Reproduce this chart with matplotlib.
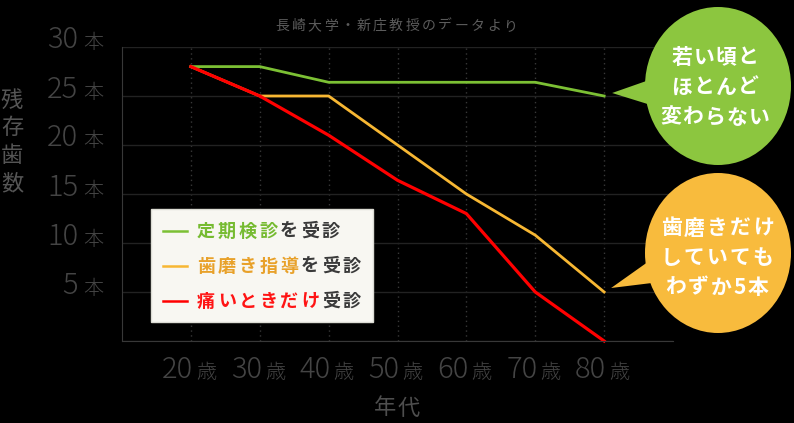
import matplotlib
matplotlib.use("Agg")
import matplotlib.pyplot as plt
from matplotlib.patches import Ellipse, Polygon, Rectangle

plt.rcParams['font.family'] = ['Noto Sans CJK JP', 'DejaVu Sans']

# data
ages = [20, 30, 40, 50, 60, 70, 80]
teiki = [28, 28, 26.4, 26.4, 26.4, 26.4, 25]        # 定期検診を受診
hamigaki = [28, 25, 25, 20, 15, 10.8, 5]           # 歯磨き指導を受診
itai = [28, 25, 21, 16.4, 13, 5, 0]                # 痛いときだけ受診
yticks = [5, 10, 15, 20, 25, 30]

series_names = [("定期検診", "を受診"), ("歯磨き指導", "を受診"), ("痛いときだけ", "受診")]
line_colors = ["#7cc034", "#f7b733", "#ff0000"]
text_colors = ["#76bb31", "#e8a12a", "#ff1414"]

title = "長崎大学・新庄教授のデータより"
ylabel = "残存歯数"
xlabel = "年代"
bubble_green = ["若い頃と", "ほとんど", "変わらない"]
bubble_orange = ["歯磨きだけ", "していても", "わずか5本"]

W, H = 794, 423
fig = plt.figure(figsize=(W / 100, H / 100), dpi=100, facecolor="black")

# main plot area
ax = fig.add_axes([122 / W, 1 - 341 / H, (673 - 122) / W, (341 - 47) / H])
ax.set_facecolor("black")
ax.set_xlim(10, 90)
ax.set_ylim(0, 30)
ax.set_xticks(ages)
ax.set_yticks([0] + yticks)
ax.tick_params(length=0, labelleft=False, labelbottom=False)
ax.grid(axis="y", color="#222222", lw=1)
ax.grid(axis="x", color="#383838", lw=1, ls=(0, (1, 2.5)))
for s in ["top", "right"]:
    ax.spines[s].set_visible(False)
for s in ["left", "bottom"]:
    ax.spines[s].set_color("#383838")

for vals, c in zip([teiki, hamigaki, itai], line_colors):
    ax.plot(ages, vals, color=c, lw=2 if c != "#ff0000" else 2.3, clip_on=False,
            solid_joinstyle="round")

# overlay in image pixel coords (origin top left) for labels, legend, bubbles
ov = fig.add_axes([0, 0, 1, 1], zorder=5)
ov.set_xlim(0, W)
ov.set_ylim(H, 0)
ov.axis("off")
ov.patch.set_alpha(0)


def px(x, y):
    return ov.transData.inverted().transform(ax.transData.transform((x, y)))


def spaced(xc, y, s, adv, **kw):
    # draw text char by char with a fixed advance (letter spacing);
    # ascii chars get a narrower slot
    widths = [adv * 0.6 if ch.isascii() else adv for ch in s]
    total = sum(widths)
    x = xc - total / 2
    for ch, w in zip(s, widths):
        ov.text(x + w / 2, y, ch, ha="center", va="center", **kw)
        x += w


tick_col = "#444444"
for v in yticks:
    gy = px(10, v)[1]
    ov.text(78, gy + 1.5, str(v), ha="right", va="baseline", fontsize=21,
            fontweight="light", color=tick_col)
    ov.text(83, gy + 1.5, "本", ha="left", va="baseline", fontsize=14.5,
            fontweight="light", color=tick_col)

for a in ages:
    gx = px(a, 0)[0]
    ov.text(gx + 2, 378, str(a), ha="right", va="baseline", fontsize=21,
            fontweight="light", color=tick_col)
    ov.text(gx + 5, 378, "歳", ha="left", va="baseline", fontsize=14.5,
            fontweight="light", color=tick_col)

spaced(396, 26, title, 16.3, fontsize=10, color="#5c5c5c")
for i, ch in enumerate(ylabel):
    ov.text(12, 100 + i * 28, ch, ha="center", va="center", fontsize=16,
            color="#555555")
spaced(397, 408, xlabel, 23, fontsize=16, color="#4e4e4e")

# legend
ov.add_patch(Rectangle((151, 209), 222, 113, facecolor="#f8f7f2",
                       edgecolor="#dcdcd4", lw=1))
for i, ((head, tail), lc, tc) in enumerate(zip(series_names, line_colors, text_colors)):
    yy = 231.5 + i * 34.8
    ov.plot([163, 187], [yy, yy], color=lc, lw=1.8)
    full = head + tail
    x0 = 206
    for j, ch in enumerate(full):
        ov.text(x0 + j * 20.8, yy, ch, ha="center", va="center", fontsize=13,
                fontweight="bold", color=tc if j < len(head) else "#3a3a3a")

# speech bubbles
tip_g = px(80, teiki[-1])
tip_o = px(80, hamigaki[-1])
ov.add_patch(Ellipse((718, 86), 146, 158, color="#8cc63f", lw=0))
ov.add_patch(Polygon([(tip_g[0] + 8, tip_g[1] - 3), (652, 79), (654, 106)],
                     color="#8cc63f", lw=0))
ov.add_patch(Ellipse((718, 253), 146, 160, color="#f8bb3d", lw=0))
ov.add_patch(Polygon([(tip_o[0] + 7, tip_o[1] - 4), (652, 259), (660, 282)],
                     color="#f8bb3d", lw=0))

for k, line in enumerate(bubble_green):
    spaced(715, 57 + k * 30, line, 22, fontsize=15, fontweight="bold", color="white")
for k, line in enumerate(bubble_orange):
    spaced(717, 228 + k * 29.5, line, 23, fontsize=15, fontweight="bold", color="white")

fig.savefig("out.png", dpi=100, facecolor="black")
